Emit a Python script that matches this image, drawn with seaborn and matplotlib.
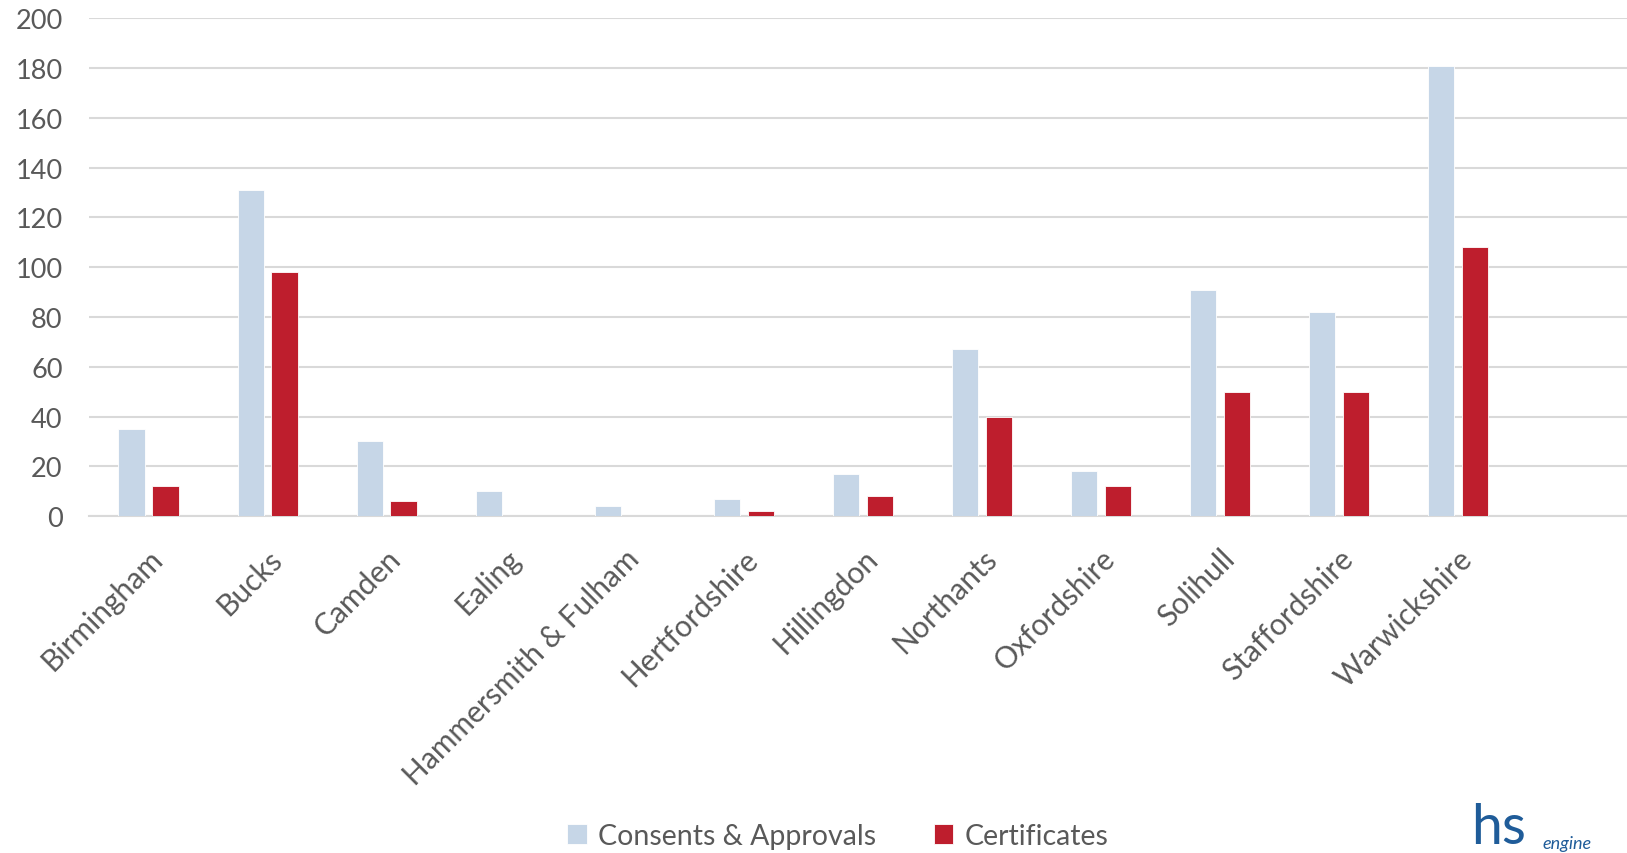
import matplotlib.pyplot as plt
import pandas as pd
import seaborn as sns

# data
areas = ['Birmingham', 'Bucks', 'Camden', 'Ealing', 'Hammersmith & Fulham',
         'Hertfordshire', 'Hillingdon', 'Northants', 'Oxfordshire', 'Solihull',
         'Staffordshire', 'Warwickshire']
consents = [35, 131, 30, 10, 4, 7, 17, 67, 18, 91, 82, 181]
certificates = [12, 98, 6, 0, 0, 2, 8, 40, 12, 50, 50, 108]
series = ['Consents & Approvals', 'Certificates']
yticks = [0, 20, 40, 60, 80, 100, 120, 140, 160, 180, 200]

BLUE = '#C6D6E7'
RED = '#BE1E2D'
GREY = '#595959'

df = pd.DataFrame({'area': areas * 2,
                   'value': consents + certificates,
                   'series': [series[0]] * len(areas) + [series[1]] * len(areas)})

sns.set_style('white')
plt.rcParams['font.family'] = ['Lato', 'DejaVu Sans']

fig = plt.figure(figsize=(16.27, 8.54), dpi=100)
ax = fig.add_axes([0.0547, 0.3946, 0.9453, 0.5826])

sns.barplot(data=df, x='area', y='value', hue='series', order=areas,
            hue_order=series, palette=[BLUE, RED], saturation=1,
            width=0.57, gap=0.23, edgecolor='white', linewidth=0.6,
            ax=ax, zorder=3)

ax.set_xlim(-0.5, 12.42)
ax.set_ylim(0, 200)
ax.set_yticks(yticks)
ax.yaxis.grid(True, color='#D9D9D9', linewidth=1.5, zorder=0)
ax.set_axisbelow(True)
for s in ['top', 'right', 'left']:
    ax.spines[s].set_visible(False)
ax.spines['bottom'].set_color('#D9D9D9')
ax.spines['bottom'].set_linewidth(1.5)
ax.tick_params(axis='both', length=0, colors=GREY)
ax.tick_params(axis='y', pad=19, labelsize=19.5)
ax.tick_params(axis='x', pad=20)
plt.setp(ax.get_xticklabels(), rotation=45, ha='right', rotation_mode='anchor',
         fontsize=21.5)
ax.set_xlabel('')
ax.set_ylabel('')

handles, labels = ax.get_legend_handles_labels()
ax.legend(handles, labels, loc='center', bbox_to_anchor=(0.515, 0.02),
          bbox_transform=fig.transFigure, ncol=2, frameon=False, fontsize=20.5,
          labelcolor=GREY, handlelength=0.7, handleheight=0.7,
          handletextpad=0.4, columnspacing=2.0)

# logo fragment at the bottom right
fig.text(0.904, 0.0, 'hs', color='#1F5C99', fontsize=40, ha='left', va='bottom')
fig.text(0.948, 0.002, 'engine', color='#1F5C99', fontsize=13, style='italic',
         ha='left', va='bottom')

fig.savefig('out.png', dpi=100)
